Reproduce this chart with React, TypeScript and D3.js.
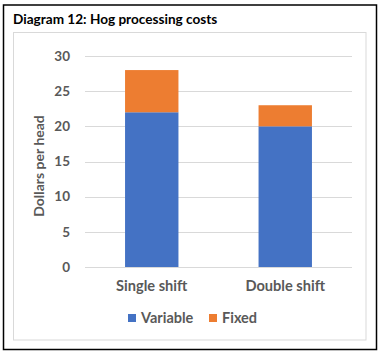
import React from "react";
import * as d3 from "d3";

const categories = ["Single shift", "Double shift"];
const seriesNames = ["Variable", "Fixed"];
const variableValues = [22, 20];
const fixedValues = [6, 3];
const yTicks = [0, 5, 10, 15, 20, 25, 30];
const colors = ["#4472C4", "#ED7D31"];

const W = 384;
const H = 355;
const FONT = "Lato, 'Open Sans', sans-serif";
const TEXT = "#595959";

export default function App() {
  const x = d3.scaleBand<string>().domain(categories).range([85, 352]).paddingInner(0.6).paddingOuter(0.3);
  const y = d3.scaleLinear().domain([0, 30]).range([267, 56]);

  const rows = categories.map((c, i) => ({ cat: c, Variable: variableValues[i], Fixed: fixedValues[i] }));
  const stacked = d3.stack<any>().keys(seriesNames)(rows);

  return (
    <svg width={W} height={H} style={{ position: "absolute", left: 0, top: 0 }} fontFamily={FONT}>
      <rect x={0} y={0} width={W} height={H} fill="#fff" />
      <rect x={3.5} y={5} width={373} height={344.5} fill="none" stroke="#000" strokeWidth={1.5} />
      <text x={13} y={24} fontSize={13.6} fontWeight="bold" fill="#000">Diagram 12: Hog processing costs</text>
      <rect x={13.5} y={32.5} width={352.5} height={307.5} fill="none" stroke="#d9d9d9" strokeWidth={1} />
      {yTicks.map((t) => (
        <g key={t}>
          <line x1={85} x2={352} y1={Math.round(y(t)) + 0.5} y2={Math.round(y(t)) + 0.5} stroke="#d9d9d9" strokeWidth={1} />
          <text x={70} y={y(t)} dy="0.35em" textAnchor="end" fontSize={13.5} fontWeight="bold" fill={TEXT}>{t}</text>
        </g>
      ))}
      {stacked.map((s, si) => (
        <g key={s.key} fill={colors[si]}>
          {s.map((d, i) => (
            <rect key={i} x={x(categories[i])} width={x.bandwidth()} y={y(d[1])} height={y(d[0]) - y(d[1])} />
          ))}
        </g>
      ))}
      {categories.map((c) => (
        <text key={c} x={(x(c) as number) + x.bandwidth() / 2} y={286} dy="0.35em" textAnchor="middle" fontSize={14.6} fontWeight="bold" fill={TEXT}>{c}</text>
      ))}
      <text transform="translate(39,166) rotate(-90)" textAnchor="middle" dy="0.35em" fontSize={14} fontWeight="bold" fill={TEXT}>Dollars per head</text>
      <g>
        <rect x={128} y={314} width={8} height={8} fill={colors[0]} />
        <text x={141} y={318} dy="0.35em" fontSize={14.5} fontWeight="bold" fill={TEXT}>{seriesNames[0]}</text>
        <rect x={209} y={314} width={8} height={8} fill={colors[1]} />
        <text x={222} y={318} dy="0.35em" fontSize={14.5} fontWeight="bold" fill={TEXT}>{seriesNames[1]}</text>
      </g>
    </svg>
  );
}
